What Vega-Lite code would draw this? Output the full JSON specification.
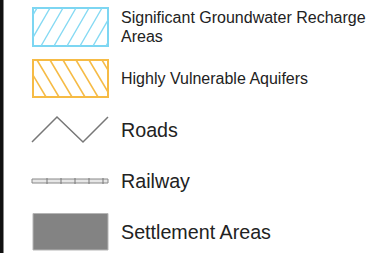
{
  "$schema": "https://vega.github.io/schema/vega-lite/v6.json",
  "width": 384,
  "height": 253,
  "autosize": {"type": "none"},
  "padding": 0,
  "background": "white",
  "config": {"view": {"stroke": null}},
  "datasets": {
    "strip": [{"x": 0, "x2": 3.5, "y": 0, "y2": 253}],
    "recharge": [{"x": 33, "x2": 108, "y": 8, "y2": 46}],
    "aquifer": [{"x": 33, "x2": 108, "y": 60, "y2": 97}],
    "settlement": [{"x": 33, "x2": 108, "y": 213.5, "y2": 250}],
    "rechargeHatch": [
      {"x": 33, "y": 14.9, "x2": 37, "y2": 8},
      {"x": 33, "y": 37.4, "x2": 50, "y2": 8},
      {"x": 41, "y": 46, "x2": 63, "y2": 8},
      {"x": 54, "y": 46, "x2": 76, "y2": 8},
      {"x": 67, "y": 46, "x2": 89, "y2": 8},
      {"x": 80, "y": 46, "x2": 102, "y2": 8},
      {"x": 93, "y": 46, "x2": 108, "y2": 20.1},
      {"x": 106, "y": 46, "x2": 108, "y2": 42.5}
    ],
    "aquiferHatch": [
      {"x": 33, "y": 75.1, "x2": 46, "y2": 97},
      {"x": 37, "y": 60, "x2": 59, "y2": 97},
      {"x": 50, "y": 60, "x2": 72, "y2": 97},
      {"x": 63, "y": 60, "x2": 85, "y2": 97},
      {"x": 76, "y": 60, "x2": 98, "y2": 97},
      {"x": 89, "y": 60, "x2": 108, "y2": 92},
      {"x": 102, "y": 60, "x2": 108, "y2": 70.1}
    ],
    "roads": [
      {"i": 0, "x": 32, "y": 142},
      {"i": 1, "x": 57, "y": 117},
      {"i": 2, "x": 83, "y": 142},
      {"i": 3, "x": 108, "y": 117}
    ],
    "rail": [{"x": 32, "x2": 108, "y": 179, "y2": 183}],
    "railTicks": [
      {"x": 47, "y": 178, "y2": 184},
      {"x": 61, "y": 178, "y2": 184},
      {"x": 75, "y": 178, "y2": 184},
      {"x": 89, "y": 178, "y2": 184},
      {"x": 103, "y": 178, "y2": 184}
    ],
    "smallLabels": [
      {"x": 121, "y": 23, "label": "Significant Groundwater Recharge"},
      {"x": 121, "y": 41.5, "label": "Areas"},
      {"x": 121, "y": 84, "label": "Highly Vulnerable Aquifers"}
    ],
    "largeLabels": [
      {"x": 121, "y": 137, "label": "Roads"},
      {"x": 121, "y": 188, "label": "Railway"},
      {"x": 121, "y": 238.5, "label": "Settlement Areas"}
    ]
  },
  "layer": [
    {
      "data": {"name": "strip"},
      "mark": {"type": "rect", "fill": "#111111"},
      "encoding": {
        "x": {"field": "x", "type": "quantitative", "scale": {"domain": [0, 384], "nice": false, "zero": false}, "axis": null},
        "x2": {"field": "x2"},
        "y": {"field": "y", "type": "quantitative", "scale": {"domain": [0, 253], "nice": false, "zero": false, "reverse": true}, "axis": null},
        "y2": {"field": "y2"}
      }
    },
    {
      "data": {"name": "recharge"},
      "mark": {"type": "rect", "fill": "white", "stroke": "#7dd6f2", "strokeWidth": 2},
      "encoding": {
        "x": {"field": "x", "type": "quantitative", "scale": {"domain": [0, 384], "nice": false, "zero": false}, "axis": null},
        "x2": {"field": "x2"},
        "y": {"field": "y", "type": "quantitative", "scale": {"domain": [0, 253], "nice": false, "zero": false, "reverse": true}, "axis": null},
        "y2": {"field": "y2"}
      }
    },
    {
      "data": {"name": "rechargeHatch"},
      "mark": {"type": "rule", "stroke": "#84d9f3", "strokeWidth": 1.4},
      "encoding": {
        "x": {"field": "x", "type": "quantitative", "scale": {"domain": [0, 384], "nice": false, "zero": false}, "axis": null},
        "x2": {"field": "x2"},
        "y": {"field": "y", "type": "quantitative", "scale": {"domain": [0, 253], "nice": false, "zero": false, "reverse": true}, "axis": null},
        "y2": {"field": "y2"}
      }
    },
    {
      "data": {"name": "aquifer"},
      "mark": {"type": "rect", "fill": "white", "stroke": "#f6bb45", "strokeWidth": 2},
      "encoding": {
        "x": {"field": "x", "type": "quantitative", "scale": {"domain": [0, 384], "nice": false, "zero": false}, "axis": null},
        "x2": {"field": "x2"},
        "y": {"field": "y", "type": "quantitative", "scale": {"domain": [0, 253], "nice": false, "zero": false, "reverse": true}, "axis": null},
        "y2": {"field": "y2"}
      }
    },
    {
      "data": {"name": "aquiferHatch"},
      "mark": {"type": "rule", "stroke": "#f6bb45", "strokeWidth": 1.5},
      "encoding": {
        "x": {"field": "x", "type": "quantitative", "scale": {"domain": [0, 384], "nice": false, "zero": false}, "axis": null},
        "x2": {"field": "x2"},
        "y": {"field": "y", "type": "quantitative", "scale": {"domain": [0, 253], "nice": false, "zero": false, "reverse": true}, "axis": null},
        "y2": {"field": "y2"}
      }
    },
    {
      "data": {"name": "roads"},
      "mark": {"type": "line", "stroke": "#777777", "strokeWidth": 1.5},
      "encoding": {
        "x": {"field": "x", "type": "quantitative", "scale": {"domain": [0, 384], "nice": false, "zero": false}, "axis": null},
        "y": {"field": "y", "type": "quantitative", "scale": {"domain": [0, 253], "nice": false, "zero": false, "reverse": true}, "axis": null},
        "order": {"field": "i", "type": "quantitative"}
      }
    },
    {
      "data": {"name": "rail"},
      "mark": {"type": "rect", "fill": "#e6e6e6", "stroke": "#888888", "strokeWidth": 1},
      "encoding": {
        "x": {"field": "x", "type": "quantitative", "scale": {"domain": [0, 384], "nice": false, "zero": false}, "axis": null},
        "x2": {"field": "x2"},
        "y": {"field": "y", "type": "quantitative", "scale": {"domain": [0, 253], "nice": false, "zero": false, "reverse": true}, "axis": null},
        "y2": {"field": "y2"}
      }
    },
    {
      "data": {"name": "railTicks"},
      "mark": {"type": "rule", "stroke": "#777777", "strokeWidth": 1},
      "encoding": {
        "x": {"field": "x", "type": "quantitative", "scale": {"domain": [0, 384], "nice": false, "zero": false}, "axis": null},
        "y": {"field": "y", "type": "quantitative", "scale": {"domain": [0, 253], "nice": false, "zero": false, "reverse": true}, "axis": null},
        "y2": {"field": "y2"}
      }
    },
    {
      "data": {"name": "settlement"},
      "mark": {"type": "rect", "fill": "#838383", "stroke": "#b5b5b5", "strokeWidth": 1},
      "encoding": {
        "x": {"field": "x", "type": "quantitative", "scale": {"domain": [0, 384], "nice": false, "zero": false}, "axis": null},
        "x2": {"field": "x2"},
        "y": {"field": "y", "type": "quantitative", "scale": {"domain": [0, 253], "nice": false, "zero": false, "reverse": true}, "axis": null},
        "y2": {"field": "y2"}
      }
    },
    {
      "data": {"name": "smallLabels"},
      "mark": {"type": "text", "align": "left", "baseline": "alphabetic", "font": "Liberation Sans", "fontSize": 16, "fill": "#222222"},
      "encoding": {
        "x": {"field": "x", "type": "quantitative", "scale": {"domain": [0, 384], "nice": false, "zero": false}, "axis": null},
        "y": {"field": "y", "type": "quantitative", "scale": {"domain": [0, 253], "nice": false, "zero": false, "reverse": true}, "axis": null},
        "text": {"field": "label"}
      }
    },
    {
      "data": {"name": "largeLabels"},
      "mark": {"type": "text", "align": "left", "baseline": "alphabetic", "font": "Liberation Sans", "fontSize": 19.7, "fill": "#222222"},
      "encoding": {
        "x": {"field": "x", "type": "quantitative", "scale": {"domain": [0, 384], "nice": false, "zero": false}, "axis": null},
        "y": {"field": "y", "type": "quantitative", "scale": {"domain": [0, 253], "nice": false, "zero": false, "reverse": true}, "axis": null},
        "text": {"field": "label"}
      }
    }
  ]
}
